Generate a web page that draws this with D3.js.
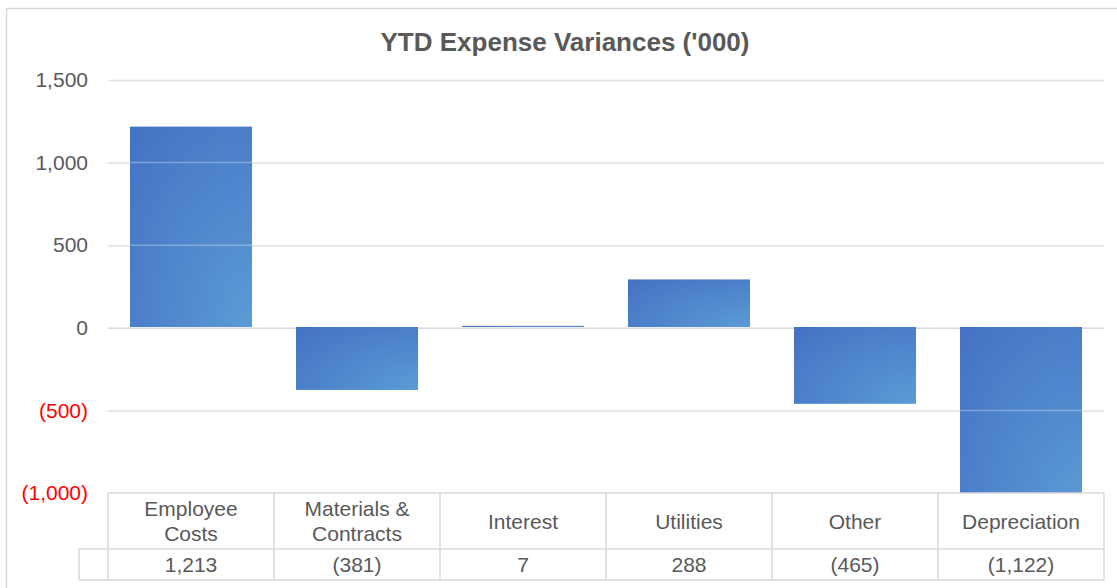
<!DOCTYPE html>
<html>
<head>
<meta charset="utf-8">
<script src="https://cdn.jsdelivr.net/npm/d3@7"></script>
<style>
  body { margin: 0; background: #fff; }
  text { font-family: "Liberation Sans", Arial, sans-serif; }
</style>
</head>
<body>
<script>
const categories = ["Employee Costs", "Materials & Contracts", "Interest", "Utilities", "Other", "Depreciation"];
const values = [1213, -381, 7, 288, -465, -1122];
const yTicks = [-1000, -500, 0, 500, 1000, 1500];
const title = "YTD Expense Variances ('000)";

const W = 1117, H = 588;
const plotL = 108, plotR = 1104, plotT = 80, plotB = 493;
const rowSplit = 549, tableBottom = 580, keyLeft = 79;
const grey = "#595959", lineCol = "#d9d9d9";

const svg = d3.select("body").append("svg")
    .attr("width", W)
    .attr("height", H);

// chart border
svg.append("rect")
    .attr("x", 6.5).attr("y", 8.5)
    .attr("width", W + 20).attr("height", H + 20)
    .attr("fill", "#fff")
    .attr("stroke", lineCol)
    .attr("stroke-width", 1.5);

const defs = svg.append("defs");
const grad = defs.append("radialGradient")
    .attr("id", "barGrad")
    .attr("cx", "100%").attr("cy", "100%")
    .attr("r", "140%");
grad.append("stop").attr("offset", "0%").attr("stop-color", "#5b9bd5");
grad.append("stop").attr("offset", "100%").attr("stop-color", "#4472c4");

const x = d3.scaleBand()
    .domain(categories)
    .range([plotL, plotR])
    .paddingInner(0.265)
    .paddingOuter(0.1325);

const y = d3.scaleLinear()
    .domain([-1000, 1500])
    .range([plotB, plotT]);

const fmt = d3.format(",");
const acct = v => v < 0 ? `(${fmt(-v)})` : fmt(v);

svg.append("text")
    .attr("x", 565).attr("y", 51)
    .attr("text-anchor", "middle")
    .attr("font-size", 26)
    .attr("font-weight", "bold")
    .attr("fill", grey)
    .text(title);

// y axis grid; lines sit under the bars, a faint copy goes on top
const yAxis = svg.append("g")
    .attr("transform", `translate(${plotL},0)`)
    .call(d3.axisLeft(y).tickValues(yTicks).tickSize(-(plotR - plotL)).tickPadding(20).tickFormat(acct));
yAxis.select(".domain").remove();
yAxis.selectAll(".tick line")
    .attr("stroke", lineCol)
    .attr("stroke-width", 1.5)
    .attr("stroke-opacity", d => d === -1000 ? 0 : 1);
yAxis.selectAll(".tick text")
    .attr("font-size", 21)
    .attr("font-family", "Liberation Sans, Arial, sans-serif")
    .attr("fill", d => d < 0 ? "#ff0000" : grey);

// bars, clipped to the plot
defs.append("clipPath").attr("id", "plotClip")
    .append("rect")
    .attr("x", plotL).attr("y", plotT)
    .attr("width", plotR - plotL).attr("height", plotB - plotT);

svg.append("g")
    .attr("clip-path", "url(#plotClip)")
    .selectAll("rect")
    .data(values)
    .join("rect")
    .attr("x", (d, i) => x(categories[i]))
    .attr("width", x.bandwidth())
    .attr("y", d => y(Math.max(0, d)) - 0.8)
    .attr("height", d => Math.abs(y(d) - y(0)))
    .attr("fill", "url(#barGrad)");

svg.append("g")
    .selectAll("line")
    .data(yTicks.filter(t => t !== 0 && t !== -1000))
    .join("line")
    .attr("x1", plotL).attr("x2", plotR)
    .attr("y1", d => y(d)).attr("y2", d => y(d))
    .attr("stroke", "#fff")
    .attr("stroke-opacity", 0.3)
    .attr("stroke-width", 1.5);

// data table
const table = svg.append("g")
    .attr("fill", "none")
    .attr("stroke", lineCol)
    .attr("stroke-width", 1.5);
table.append("line").attr("x1", plotL).attr("x2", plotR).attr("y1", plotB).attr("y2", plotB);
table.append("line").attr("x1", keyLeft).attr("x2", plotR).attr("y1", rowSplit).attr("y2", rowSplit);
table.append("line").attr("x1", keyLeft).attr("x2", plotR).attr("y1", tableBottom).attr("y2", tableBottom);
table.append("line").attr("x1", keyLeft).attr("x2", keyLeft).attr("y1", rowSplit).attr("y2", tableBottom);
const edges = categories.map(c => x(c) - x.step() * x.paddingInner() / 2).concat([plotR]);
table.selectAll("line.col")
    .data(edges)
    .join("line")
    .attr("class", "col")
    .attr("x1", d => d).attr("x2", d => d)
    .attr("y1", plotB).attr("y2", tableBottom);

const cx = c => x(c) + x.bandwidth() / 2;

const labels = svg.append("g")
    .selectAll("text")
    .data(categories)
    .join("text")
    .attr("text-anchor", "middle")
    .attr("font-size", 21)
    .attr("fill", grey);

// wrap category names to fit the column
labels.each(function(c) {
  const t = d3.select(this);
  const words = c.split(" ");
  const lines = [];
  let line = [];
  for (const w of words) {
    line.push(w);
    t.text(line.join(" "));
    if (this.getComputedTextLength() > x.step() - 22 && line.length > 1) {
      line.pop();
      lines.push(line.join(" "));
      line = [w];
    }
  }
  lines.push(line.join(" "));
  t.text(null);
  const mid = (plotB + rowSplit) / 2;
  lines.forEach((l, k) => {
    t.append("tspan")
      .attr("x", cx(c))
      .attr("y", mid + (k - (lines.length - 1) / 2) * 25)
      .attr("dy", "0.36em")
      .text(l);
  });
});

svg.append("g")
    .selectAll("text")
    .data(values)
    .join("text")
    .attr("x", (d, i) => cx(categories[i]))
    .attr("y", (rowSplit + tableBottom) / 2)
    .attr("dy", "0.36em")
    .attr("text-anchor", "middle")
    .attr("font-size", 21)
    .attr("fill", grey)
    .text(acct);
</script>
</body>
</html>
